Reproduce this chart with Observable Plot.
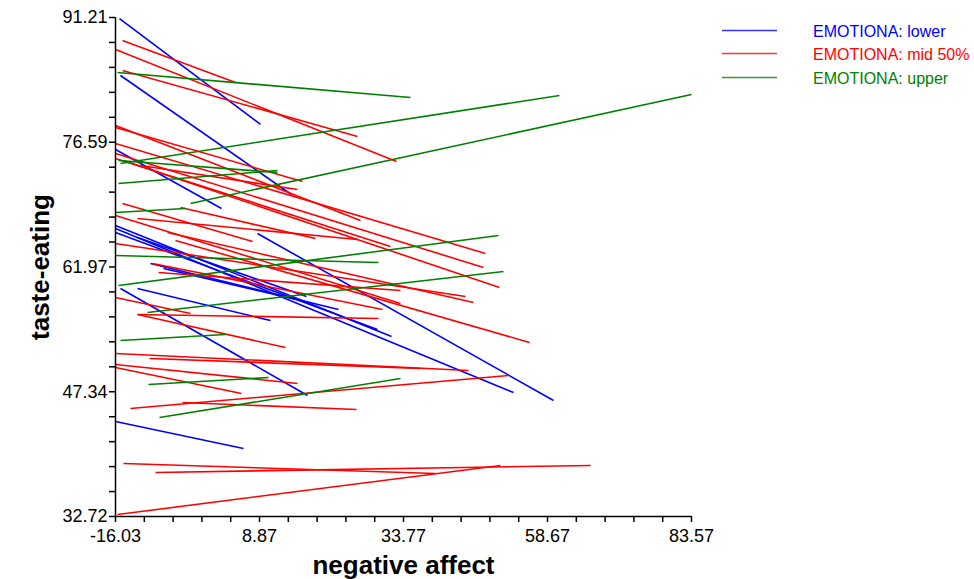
<!DOCTYPE html>
<html>
<head>
<meta charset="utf-8">
<script src="https://cdn.jsdelivr.net/npm/d3@7"></script>
<script src="https://cdn.jsdelivr.net/npm/@observablehq/plot@0.6"></script>
<style>
  html, body { margin: 0; padding: 0; background: #fff; }
  #wrap { position: relative; width: 974px; height: 579px; }
  .lg { position: absolute; font-family: "Liberation Sans", Arial, sans-serif; font-size: 16px; line-height: 16px; white-space: nowrap; }
  #lgsvg { position: absolute; left: 0; top: 0; pointer-events: none; }
</style>
</head>
<body>
<div id="wrap"></div>
<script>
// Axis ticks
const xTicks = [-16.03, 8.87, 33.77, 58.67, 83.57];
const yTicks = [32.72, 47.34, 61.97, 76.59, 91.21];

// Series: each segment [negAffect1, taste1, negAffect2, taste2]
const lower = [
  [-15.34, 91.09, 9.04, 78.67],
  [-15.17, 84.41, 14.40, 70.46],
  [-16.03, 75.74, 2.30, 68.82],
  [8.52, 65.89, 59.71, 46.32],
  [-16.03, 66.48, 52.79, 47.25],
  [-16.03, 66.83, 31.70, 53.82],
  [-16.03, 66.01, 29.27, 54.64],
  [-12.23, 65.42, 17.00, 58.51],
  [-9.98, 62.38, 22.53, 56.98],
  [-7.73, 61.79, 15.96, 58.04],
  [-15.17, 59.45, 17.17, 46.90],
  [-12.23, 59.45, 10.77, 55.69],
  [-16.03, 43.86, 6.10, 40.69]
];
const mid = [
  [-14.82, 88.51, 4.72, 83.59],
  [-16.03, 87.46, 32.56, 74.33],
  [-14.82, 85.00, 25.82, 77.26],
  [-16.03, 78.55, 26.33, 67.42],
  [-16.03, 78.32, 16.31, 71.99],
  [-16.03, 76.44, 47.95, 63.55],
  [-16.03, 75.27, 47.60, 61.91],
  [-14.65, 74.45, 50.37, 59.56],
  [-11.71, 73.86, 15.44, 71.05],
  [-14.82, 69.41, 7.66, 64.95],
  [-4.79, 68.94, 18.55, 65.31],
  [-16.03, 74.68, 31.52, 64.37],
  [-12.23, 67.65, 25.82, 65.19],
  [-16.03, 68.00, 33.25, 57.69],
  [-7.04, 66.01, 45.87, 57.80],
  [-16.03, 64.72, 44.49, 58.51],
  [-5.66, 65.07, 55.56, 53.12],
  [-9.63, 62.38, 30.14, 56.98],
  [-8.59, 61.32, 33.25, 59.21],
  [-16.03, 58.39, -3.06, 56.52],
  [-12.23, 56.40, 29.45, 55.93],
  [-12.23, 56.40, 13.37, 52.53],
  [-16.03, 51.83, 45.01, 49.83],
  [-10.15, 51.24, 36.71, 50.07],
  [-16.03, 50.54, 15.44, 48.31],
  [-16.03, 50.19, 5.76, 47.14],
  [-13.44, 45.38, 51.93, 49.25],
  [-4.44, 46.08, 25.64, 45.26],
  [-14.65, 38.93, 39.31, 37.76],
  [-9.11, 37.88, 66.11, 38.70],
  [-15.68, 32.95, 50.54, 38.70]
];
const upper = [
  [-15.68, 84.76, 34.98, 81.83],
  [-15.17, 74.10, 60.74, 82.07],
  [-3.06, 69.41, 83.57, 82.18],
  [-15.51, 74.45, 11.98, 73.04],
  [-15.51, 71.75, 11.98, 73.28],
  [-16.03, 68.35, -3.93, 68.82],
  [-16.03, 63.31, 29.45, 62.49],
  [-15.51, 59.80, 50.20, 65.66],
  [-10.50, 56.63, 51.06, 61.44],
  [-15.17, 53.35, 2.99, 54.05],
  [-10.32, 48.19, 10.43, 49.01],
  [-8.42, 44.32, 33.25, 48.90]
];
const seriesNames = ["EMOTIONA: lower", "EMOTIONA: mid 50%", "EMOTIONA: upper"];
const seriesColors = ["#0000ff", "#ff0000", "#008000"];

const minor = (ticks) => ticks.slice(1).flatMap((t, i) => [1, 2, 3, 4].map(k => ticks[i] + (t - ticks[i]) * k / 5));

const seg = (data, color) => Plot.link(data, {
  x1: d => d[0], y1: d => d[1], x2: d => d[2], y2: d => d[3],
  stroke: color, strokeWidth: 1.6
});

const chart = Plot.plot({
  width: 974,
  height: 579,
  marginLeft: 115,
  marginRight: 283,
  marginTop: 17,
  marginBottom: 63,
  style: { fontFamily: "'Liberation Sans Narrow', 'Arial Narrow', 'Liberation Sans', Arial, sans-serif", fontSize: "18px", color: "#000", background: "#fff", overflow: "visible" },
  x: { domain: [-16.03, 83.57], label: null },
  y: { domain: [32.72, 91.21], label: null },
  marks: [
    seg(lower, seriesColors[0]),
    seg(mid, seriesColors[1]),
    seg(upper, seriesColors[2]),
    Plot.ruleY([32.72], { stroke: "#000", strokeWidth: 1.5 }),
    Plot.ruleX([-16.03], { stroke: "#000", strokeWidth: 1.5 }),
    Plot.axisX({ ticks: xTicks, tickFormat: d => d.toFixed(2), tickSize: 6, tickPadding: 7, label: null, strokeWidth: 1.5 }),
    Plot.axisX({ ticks: minor(xTicks), tickFormat: () => "", tickSize: 6, label: null, strokeWidth: 1.5 }),
    Plot.axisY({ ticks: yTicks, tickFormat: d => d.toFixed(2), tickSize: 6, tickPadding: 2, label: null, strokeWidth: 1.5 }),
    Plot.axisY({ ticks: minor(yTicks), tickFormat: () => "", tickSize: 6, label: null, strokeWidth: 1.5 }),
    Plot.text(["negative affect"], { frameAnchor: "bottom", dy: 49, lineAnchor: "middle", textAnchor: "middle", text: d => d, fontSize: 26, fontWeight: "bold", fontFamily: "'Liberation Sans', Arial, sans-serif" }),
    Plot.text(["taste-eating"], { frameAnchor: "left", dx: -75, rotate: -90, lineAnchor: "middle", textAnchor: "middle", text: d => d, fontSize: 26, fontWeight: "bold", fontFamily: "'Liberation Sans', Arial, sans-serif" })
  ]
});

const wrap = document.getElementById("wrap");
wrap.appendChild(chart);

// Legend (top right)
const legendTop = [30, 53, 77];
const ns = "http://www.w3.org/2000/svg";
const lgsvg = document.createElementNS(ns, "svg");
lgsvg.setAttribute("id", "lgsvg");
lgsvg.setAttribute("width", 974);
lgsvg.setAttribute("height", 100);
wrap.appendChild(lgsvg);
seriesNames.forEach((name, i) => {
  const ln = document.createElementNS(ns, "line");
  ln.setAttribute("x1", 722);
  ln.setAttribute("x2", 777);
  ln.setAttribute("y1", legendTop[i] + 0.5);
  ln.setAttribute("y2", legendTop[i] + 0.5);
  ln.setAttribute("stroke", seriesColors[i]);
  ln.setAttribute("stroke-width", 1.5);
  ln.setAttribute("stroke-opacity", 0.8);
  lgsvg.appendChild(ln);
  const tx = document.createElement("div");
  tx.className = "lg";
  tx.style.left = "813px";
  tx.style.top = (legendTop[i] - 6) + "px";
  tx.style.color = seriesColors[i];
  tx.textContent = name;
  wrap.appendChild(tx);
});
</script>
</body>
</html>
